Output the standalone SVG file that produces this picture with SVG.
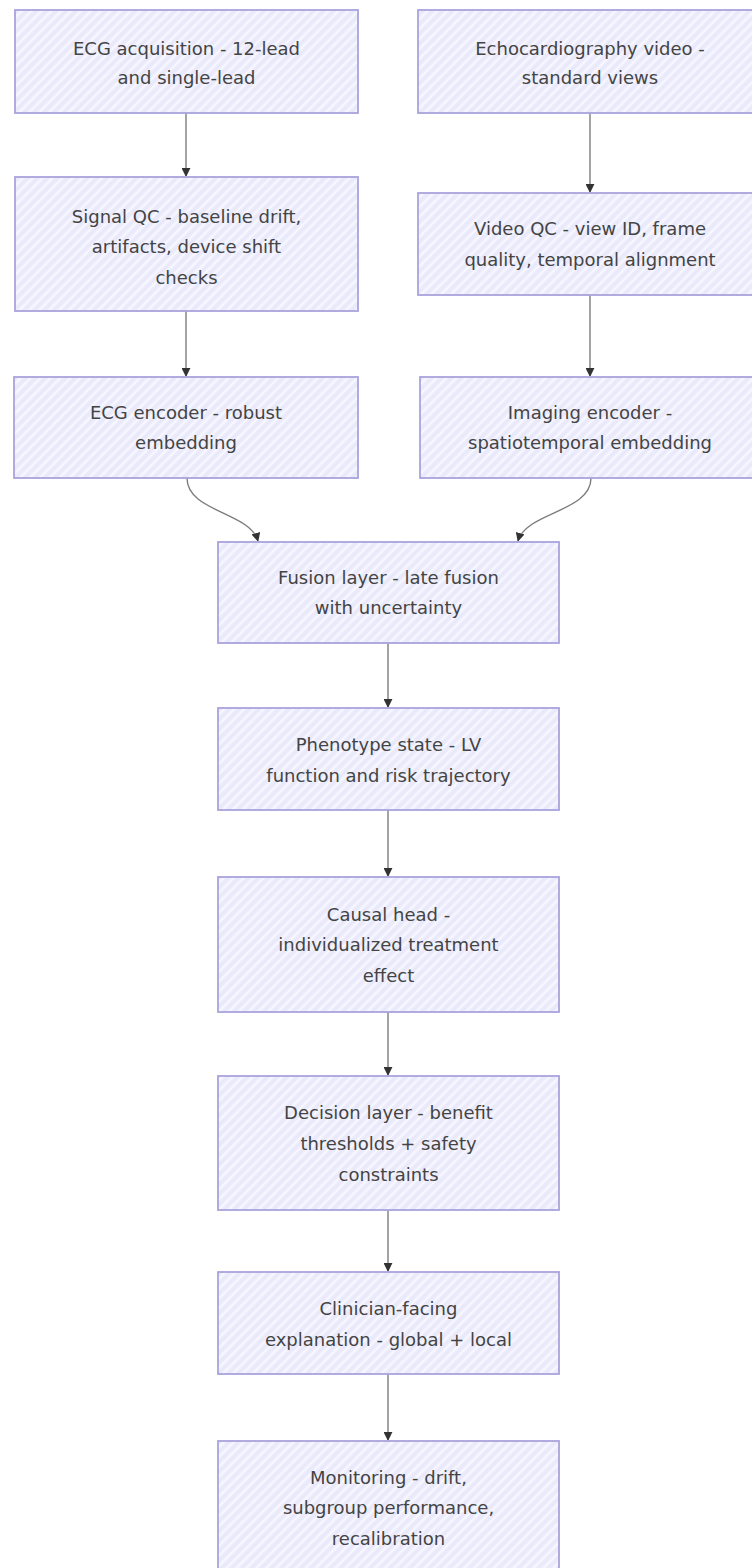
<svg xmlns="http://www.w3.org/2000/svg" width="752" height="1568" viewBox="0 0 752 1568">
  <style>
    .box { fill: url(#hatch); stroke: #a9a3dc; stroke-width: 1.8; }
    .lbl { font-family: "DejaVu Sans", "Liberation Sans", sans-serif; font-size: 18px; fill: #444; text-anchor: middle; dominant-baseline: central; }
    .edge { fill: none; stroke: #7d7d7d; stroke-width: 1.4; marker-end: url(#arrow); }
  </style>
  <defs>
    <pattern id="hatch" patternUnits="userSpaceOnUse" width="7" height="7" patternTransform="rotate(45)">
      <rect width="7" height="7" fill="#ececfc"/>
      <line x1="2" y1="0" x2="2" y2="7" stroke="#f7f7ff" stroke-width="2"/>
      <line x1="5.5" y1="0" x2="5.5" y2="7" stroke="#e4e4f8" stroke-width="0.8"/>
    </pattern>
    <marker id="arrow" viewBox="0 0 10 10" refX="9" refY="5" markerWidth="9" markerHeight="9" markerUnits="userSpaceOnUse" orient="auto">
      <path d="M0,0 L10,5 L0,10 z" fill="#333"/>
    </marker>
  </defs>

  <!-- connectors -->
  <g id="edges">
    <path class="edge" d="M186,113 V176"/>
    <path class="edge" d="M590,113 V192"/>
    <path class="edge" d="M186,311 V376"/>
    <path class="edge" d="M590,295 V376"/>
    <path class="edge" d="M187,478 C187,512 250,512 258,541"/>
    <path class="edge" d="M591,478 C591,512 526,512 518,541"/>
    <path class="edge" d="M388,643 V707"/>
    <path class="edge" d="M388,810 V876"/>
    <path class="edge" d="M388,1012 V1075"/>
    <path class="edge" d="M388,1210 V1271"/>
    <path class="edge" d="M388,1374 V1440"/>
  </g>

  <!-- ECG acquisition -->
  <g id="ecgAcq">
    <rect class="box" x="15" y="10" width="343" height="103"/>
    <text class="lbl" x="186.5" y="48">ECG acquisition - 12-lead</text>
    <text class="lbl" x="186.5" y="77">and single-lead</text>
  </g>

  <!-- Echocardiography video -->
  <g id="echoVid">
    <rect class="box" x="418" y="10" width="344" height="103"/>
    <text class="lbl" x="590" y="48">Echocardiography video -</text>
    <text class="lbl" x="590" y="77">standard views</text>
  </g>

  <!-- Signal QC -->
  <g id="signalQC">
    <rect class="box" x="15" y="177" width="343" height="134"/>
    <text class="lbl" x="186.5" y="216">Signal QC - baseline drift,</text>
    <text class="lbl" x="186.5" y="246">artifacts, device shift</text>
    <text class="lbl" x="186.5" y="277">checks</text>
  </g>

  <!-- Video QC -->
  <g id="videoQC">
    <rect class="box" x="418" y="193" width="344" height="102"/>
    <text class="lbl" x="590" y="228">Video QC - view ID, frame</text>
    <text class="lbl" x="590" y="259">quality, temporal alignment</text>
  </g>

  <!-- ECG encoder -->
  <g id="ecgEnc">
    <rect class="box" x="14" y="377" width="344" height="101"/>
    <text class="lbl" x="186" y="412">ECG encoder - robust</text>
    <text class="lbl" x="186" y="442">embedding</text>
  </g>

  <!-- Imaging encoder -->
  <g id="imgEnc">
    <rect class="box" x="420" y="377" width="342" height="101"/>
    <text class="lbl" x="590" y="412">Imaging encoder -</text>
    <text class="lbl" x="590" y="442">spatiotemporal embedding</text>
  </g>

  <!-- Fusion layer -->
  <g id="fusion">
    <rect class="box" x="218" y="542" width="341" height="101"/>
    <text class="lbl" x="388.5" y="577">Fusion layer - late fusion</text>
    <text class="lbl" x="388.5" y="607">with uncertainty</text>
  </g>

  <!-- Phenotype state -->
  <g id="phenotype">
    <rect class="box" x="218" y="708" width="341" height="102"/>
    <text class="lbl" x="388.5" y="744">Phenotype state - LV</text>
    <text class="lbl" x="388.5" y="775">function and risk trajectory</text>
  </g>

  <!-- Causal head -->
  <g id="causal">
    <rect class="box" x="218" y="877" width="341" height="135"/>
    <text class="lbl" x="388.5" y="914">Causal head -</text>
    <text class="lbl" x="388.5" y="944">individualized treatment</text>
    <text class="lbl" x="388.5" y="975">effect</text>
  </g>

  <!-- Decision layer -->
  <g id="decision">
    <rect class="box" x="218" y="1076" width="341" height="134"/>
    <text class="lbl" x="388.5" y="1112">Decision layer - benefit</text>
    <text class="lbl" x="388.5" y="1143">thresholds + safety</text>
    <text class="lbl" x="388.5" y="1174">constraints</text>
  </g>

  <!-- Clinician-facing explanation -->
  <g id="explain">
    <rect class="box" x="218" y="1272" width="341" height="102"/>
    <text class="lbl" x="388.5" y="1308">Clinician-facing</text>
    <text class="lbl" x="388.5" y="1339">explanation - global + local</text>
  </g>

  <!-- Monitoring -->
  <g id="monitor">
    <rect class="box" x="218" y="1441" width="341" height="135"/>
    <text class="lbl" x="388.5" y="1477">Monitoring - drift,</text>
    <text class="lbl" x="388.5" y="1507">subgroup performance,</text>
    <text class="lbl" x="388.5" y="1538">recalibration</text>
  </g>
</svg>
